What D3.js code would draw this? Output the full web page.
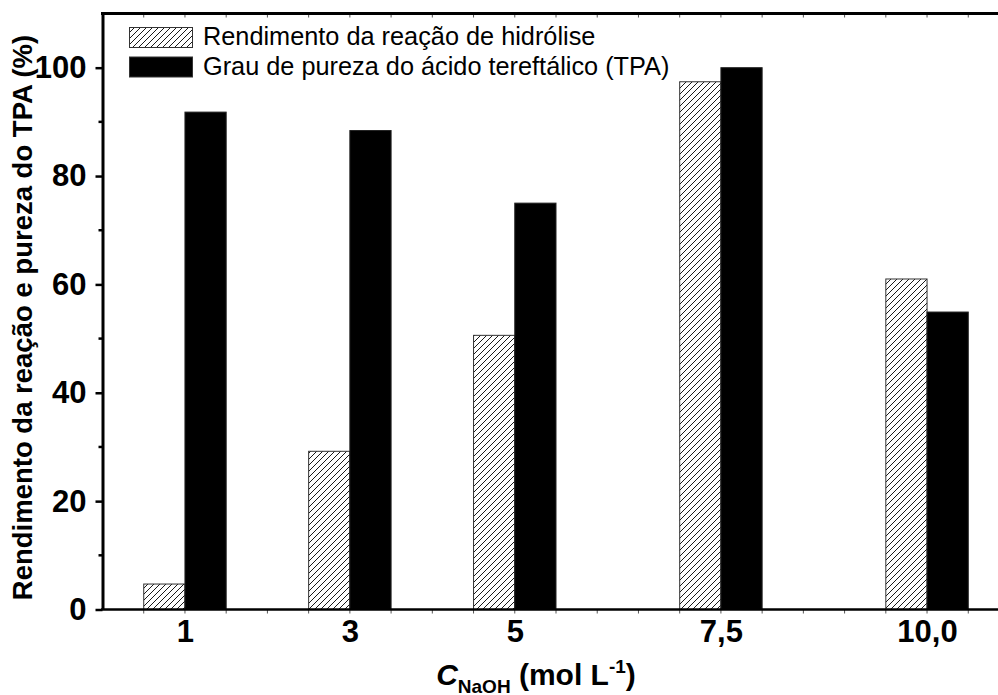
<!DOCTYPE html>
<html>
<head>
<meta charset="utf-8">
<script src="https://cdn.jsdelivr.net/npm/d3@7"></script>
<style>
  html, body { margin: 0; padding: 0; background: #fff; }
  svg { display: block; font-family: Arial, "Liberation Sans", sans-serif; }
</style>
</head>
<body>
<svg id="chart" width="998" height="695"></svg>
<script>
// NaOH concentration (mol L-1) for each experiment
const concentrations = [1, 3, 5, 7.5, 10];
const concentrationLabels = ["1", "3", "5", "7,5", "10,0"];
// Hydrolysis yield (%)
const yieldValues = [4.7, 29.2, 50.6, 97.4, 61.0];
// Purity of terephthalic acid (%)
const purityValues = [91.8, 88.4, 75.0, 100.0, 54.9];
// Y axis ticks
const yMajorTicks = [0, 20, 40, 60, 80, 100];
const yMinorTicks = [10, 30, 50, 70, 90];
const seriesNames = ["Rendimento da reação de hidrólise", "Grau de pureza do ácido tereftálico (TPA)"];

const FONT = "Arial, 'Liberation Sans', sans-serif";
const svg = d3.select("#chart");
const plotLeft = 102.5, plotRight = 1009.5, plotTop = 13.5, plotBottom = 609.5;

const x = d3.scaleLinear().domain([0, 11]).range([plotLeft, plotRight]);
const y = d3.scaleLinear().domain([0, 110]).range([plotBottom, plotTop]);
const barW = 0.5; // in concentration units

// hatch pattern
const defs = svg.append("defs");
const pat = defs.append("pattern")
  .attr("id", "hatch").attr("patternUnits", "userSpaceOnUse")
  .attr("width", 6).attr("height", 6);
pat.append("rect").attr("width", 6).attr("height", 6).attr("fill", "#fff");
pat.append("path")
  .attr("d", "M-1,1 l2,-2 M0,6 l6,-6 M5,7 l2,-2")
  .attr("stroke", "#000").attr("stroke-width", 0.9);

// bars: hatched (yield) left of the value, black (purity) right of it
svg.append("g").selectAll("rect").data(concentrations).join("rect")
  .attr("x", (d) => x(d - barW))
  .attr("width", (d) => x(d) - x(d - barW))
  .attr("y", (d, i) => y(yieldValues[i]))
  .attr("height", (d, i) => y(0) - y(yieldValues[i]))
  .attr("fill", "url(#hatch)")
  .attr("stroke", "#333").attr("stroke-width", 1);

svg.append("g").selectAll("rect").data(concentrations).join("rect")
  .attr("x", (d) => x(d))
  .attr("width", (d) => x(d + barW) - x(d))
  .attr("y", (d, i) => y(purityValues[i]))
  .attr("height", (d, i) => y(0) - y(purityValues[i]))
  .attr("fill", "#000")
  .attr("stroke", "#222").attr("stroke-width", 1);

// small ticks every 0.5 along the bottom and top
const halfSteps = d3.range(0.5, 11, 0.5);
svg.append("g").selectAll("line").data(halfSteps).join("line")
  .attr("x1", (d) => x(d)).attr("x2", (d) => x(d))
  .attr("y1", plotBottom).attr("y2", plotBottom + 4)
  .attr("stroke", "#555").attr("stroke-width", 1);
svg.append("g").selectAll("line").data(halfSteps).join("line")
  .attr("x1", (d) => x(d)).attr("x2", (d) => x(d))
  .attr("y1", plotTop).attr("y2", plotTop + 4)
  .attr("stroke", "#555").attr("stroke-width", 1);

// frame lines
svg.append("line").attr("x1", plotLeft - 1.5).attr("x2", 998).attr("y1", plotBottom).attr("y2", plotBottom)
  .attr("stroke", "#000").attr("stroke-width", 2.5);
svg.append("line").attr("x1", plotLeft - 1.5).attr("x2", 998).attr("y1", plotTop).attr("y2", plotTop)
  .attr("stroke", "#000").attr("stroke-width", 3);

// Y axis
const yAxis = d3.axisLeft(y).tickValues(yMajorTicks).tickSize(7).tickSizeOuter(0).tickPadding(9);
const gy = svg.append("g").attr("transform", `translate(${plotLeft},0)`).call(yAxis);
gy.select(".domain").attr("stroke-width", 3);
gy.selectAll(".tick line").attr("stroke-width", 2.5);
gy.selectAll(".tick text")
  .attr("font-size", 31).attr("font-weight", "bold").attr("fill", "#000")
  .attr("font-family", FONT);
svg.append("g").selectAll("line").data(yMinorTicks).join("line")
  .attr("x1", plotLeft - 4).attr("x2", plotLeft)
  .attr("y1", (d) => y(d)).attr("y2", (d) => y(d))
  .attr("stroke", "#000").attr("stroke-width", 2.5);

// X tick labels
const xAxis = d3.axisBottom(x).tickValues(concentrations)
  .tickFormat((d, i) => concentrationLabels[i]).tickSize(0).tickPadding(10.5);
const gx = svg.append("g").attr("transform", `translate(0,${plotBottom})`).call(xAxis);
gx.select(".domain").remove();
gx.selectAll(".tick text")
  .attr("font-size", 31).attr("font-weight", "bold").attr("fill", "#000")
  .attr("font-family", FONT);

// Axis titles
svg.append("text")
  .attr("transform", `translate(32,${(plotTop + plotBottom) / 2 + 6}) rotate(-90)`)
  .attr("text-anchor", "middle")
  .attr("font-size", 27.5).attr("font-weight", "bold")
  .text("Rendimento da reação e pureza do TPA (%)");

const xt = svg.append("text")
  .attr("x", 536).attr("y", 685)
  .attr("text-anchor", "middle")
  .attr("font-size", 30).attr("font-weight", "bold");
xt.append("tspan").attr("font-style", "italic").text("C");
xt.append("tspan").attr("font-size", 19).attr("dy", 8).text("NaOH");
xt.append("tspan").attr("dy", -8).text(" (mol L");
xt.append("tspan").attr("font-size", 19).attr("dy", -12).text("-1");
xt.append("tspan").attr("dy", 12).text(")");

// Legend
const legend = svg.append("g").attr("transform", "translate(129,27)");
const legendFills = ["url(#hatch)", "#000"];
seriesNames.forEach((name, i) => {
  const g = legend.append("g").attr("transform", `translate(0,${i * 29.5})`);
  g.append("rect").attr("x", 0.5).attr("y", 0.5).attr("width", 63).attr("height", 20)
    .attr("fill", legendFills[i]).attr("stroke", "#333").attr("stroke-width", 1);
  g.append("text").attr("x", 74).attr("y", 18)
    .attr("font-size", 25.3).attr("fill", "#000").text(name);
});
</script>
</body>
</html>
